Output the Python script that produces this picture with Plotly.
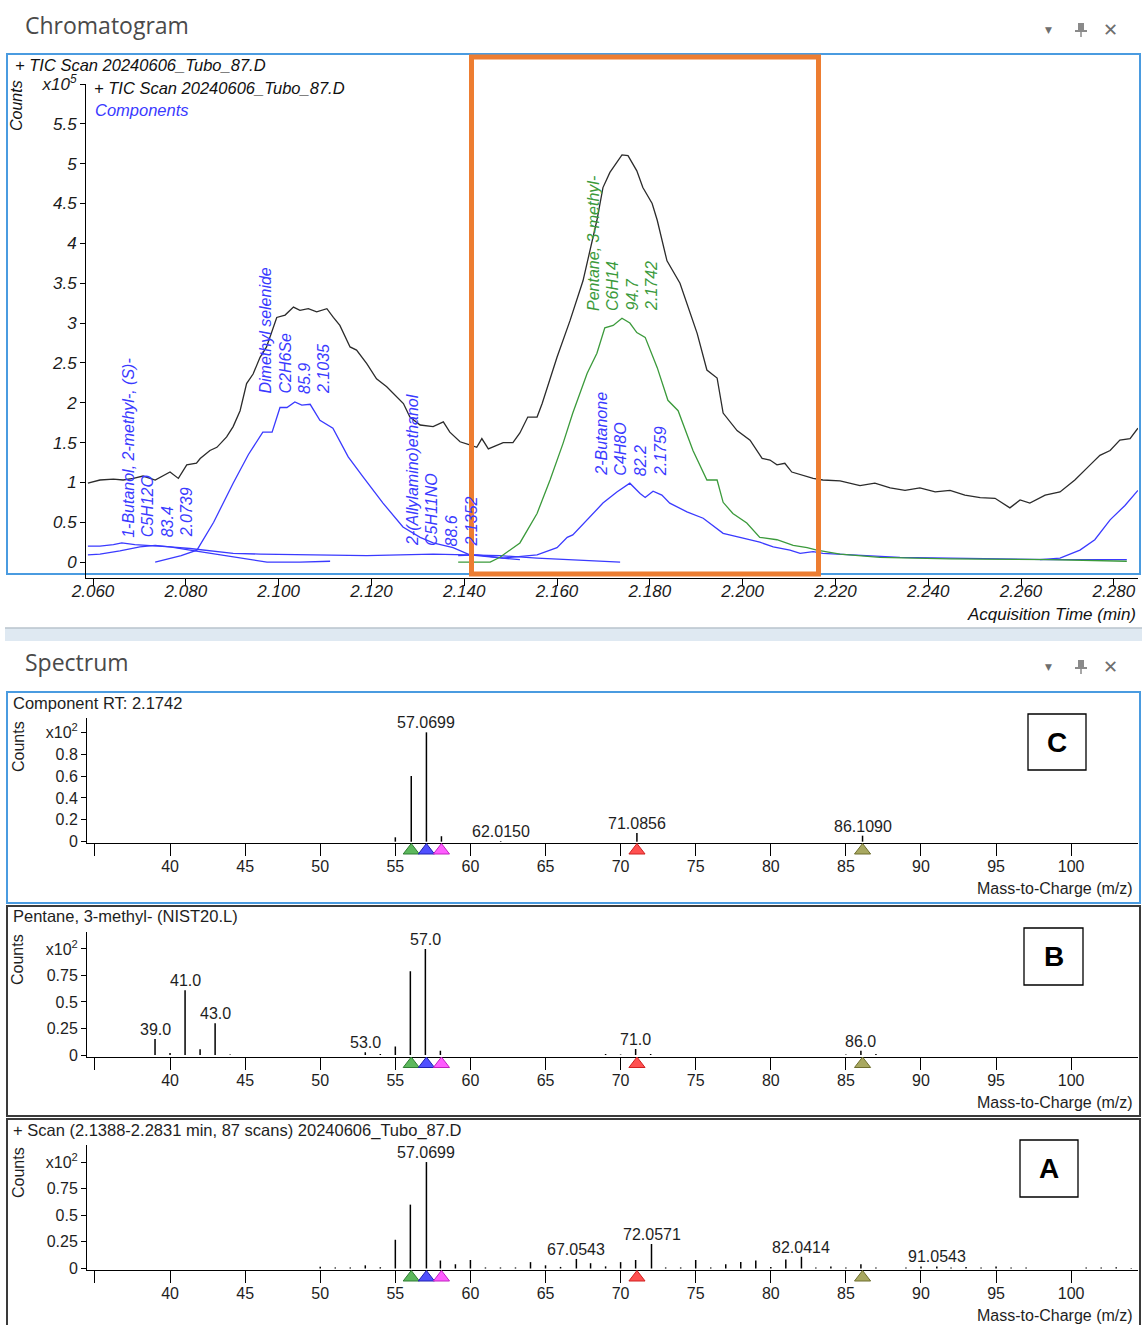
import numpy as np
import plotly.graph_objects as go

W, H = 1142, 1325
FONT = "Liberation Sans, Arial, sans-serif"
UI_FONT = "Open Sans, Noto Sans, sans-serif"

# ---------------- Chromatogram data: (acquisition time [min], counts x10^5) ----------------
tic_points = [
    (2.0589, 0.99), (2.0615, 1.03), (2.0644, 1.04), (2.0665, 1.03), (2.0687, 1.05), (2.0708, 1.08),
    (2.0734, 1.03), (2.0748, 1.07), (2.0766, 1.13), (2.0784, 1.05), (2.0802, 1.22), (2.0823, 1.24),
    (2.0831, 1.30), (2.0852, 1.40), (2.0867, 1.44), (2.0888, 1.57), (2.0902, 1.70), (2.0917, 1.90),
    (2.0931, 2.24), (2.0945, 2.36), (2.0960, 2.57), (2.0974, 2.70), (2.0996, 3.07), (2.1014, 3.10),
    (2.1032, 3.20), (2.1046, 3.16), (2.1064, 3.18), (2.1082, 3.14), (2.1104, 3.18), (2.1118, 3.07),
    (2.1132, 2.97), (2.1154, 2.70), (2.1168, 2.66), (2.1190, 2.49), (2.1211, 2.30), (2.1233, 2.20),
    (2.1254, 2.07), (2.1269, 1.99), (2.1283, 1.82), (2.1305, 1.72), (2.1333, 1.70), (2.1348, 1.74),
    (2.1355, 1.76), (2.1369, 1.63), (2.1391, 1.51), (2.1412, 1.47), (2.1427, 1.44), (2.1438, 1.55),
    (2.1452, 1.42), (2.1484, 1.50), (2.1505, 1.50), (2.1520, 1.62), (2.1537, 1.82), (2.1557, 1.82),
    (2.1568, 1.99), (2.1600, 2.57), (2.1628, 3.03), (2.1656, 3.53), (2.1686, 4.29), (2.1699, 4.70),
    (2.1714, 4.89), (2.1740, 5.11), (2.1753, 5.10), (2.1772, 4.91), (2.1785, 4.70), (2.1805, 4.50),
    (2.1816, 4.29), (2.1837, 3.78), (2.1865, 3.50), (2.1902, 2.87), (2.1923, 2.41), (2.1945, 2.31),
    (2.1958, 1.87), (2.1988, 1.65), (2.2016, 1.53), (2.2042, 1.30), (2.2059, 1.28), (2.2074, 1.22),
    (2.2091, 1.24), (2.2106, 1.13), (2.2130, 1.09), (2.2152, 1.05), (2.2173, 1.03), (2.2210, 1.02),
    (2.2253, 0.96), (2.2285, 0.99), (2.2318, 0.93), (2.2350, 0.90), (2.2382, 0.93), (2.2415, 0.88),
    (2.2447, 0.90), (2.2479, 0.84), (2.2512, 0.81), (2.2544, 0.80), (2.2576, 0.68), (2.2598, 0.78),
    (2.2619, 0.74), (2.2652, 0.84), (2.2684, 0.88), (2.2716, 1.03), (2.2749, 1.22), (2.2770, 1.34),
    (2.2792, 1.40), (2.2813, 1.53), (2.2835, 1.55), (2.2852, 1.68),
]

pentane_points = [
    (2.1387, 0.00), (2.1428, 0.00), (2.1456, 0.00), (2.1477, 0.06), (2.1520, 0.24), (2.1557, 0.61),
    (2.1585, 1.03), (2.1613, 1.49), (2.1634, 1.87), (2.1665, 2.37), (2.1686, 2.62), (2.1703, 2.94),
    (2.1721, 2.97), (2.1740, 3.06), (2.1757, 3.00), (2.1772, 2.88), (2.1790, 2.82), (2.1816, 2.44),
    (2.1839, 2.03), (2.1861, 1.90), (2.1893, 1.40), (2.1923, 1.03), (2.1945, 1.03), (2.1958, 0.75),
    (2.1979, 0.61), (2.2009, 0.49), (2.2037, 0.31), (2.2074, 0.28), (2.2109, 0.21), (2.2139, 0.18),
    (2.2160, 0.15), (2.2210, 0.10), (2.2296, 0.06), (2.2447, 0.04), (2.2662, 0.03), (2.2828, 0.01),
]

dimethylselenide_points = [
    (2.0734, 0.00), (2.0790, 0.08), (2.0824, 0.15), (2.0860, 0.50), (2.0902, 0.99), (2.0935, 1.35),
    (2.0966, 1.63), (2.0986, 1.63), (2.1003, 1.94), (2.1018, 1.94), (2.1035, 2.01), (2.1050, 1.97),
    (2.1068, 1.98), (2.1089, 1.78), (2.1117, 1.68), (2.1150, 1.32), (2.1182, 1.07), (2.1225, 0.74),
    (2.1268, 0.44), (2.1305, 0.31), (2.1333, 0.24), (2.1376, 0.18), (2.1412, 0.09), (2.1471, 0.06),
    (2.1520, 0.03),
]

butanol_points = [
    (2.0589, 0.09), (2.0615, 0.10), (2.0658, 0.14), (2.0701, 0.19), (2.0734, 0.21), (2.0766, 0.19),
    (2.0809, 0.15), (2.0852, 0.11), (2.0917, 0.05), (2.0975, 0.00), (2.1046, 0.00), (2.1111, 0.01),
]

allylaminoethanol_points = [
    (2.0589, 0.20), (2.0615, 0.20), (2.0644, 0.22), (2.0662, 0.24), (2.0690, 0.22), (2.0720, 0.21),
    (2.0766, 0.19), (2.0809, 0.17), (2.0852, 0.14), (2.0902, 0.11), (2.0960, 0.10), (2.1046, 0.09),
    (2.1111, 0.09), (2.1190, 0.08), (2.1262, 0.09), (2.1333, 0.10), (2.1406, 0.09), (2.1477, 0.08),
    (2.1557, 0.05), (2.1628, 0.03), (2.1700, 0.01), (2.1736, 0.00),
]

butanone_points = [
    (2.1387, 0.08), (2.1428, 0.09), (2.1484, 0.05), (2.1557, 0.09), (2.1600, 0.18), (2.1622, 0.31),
    (2.1634, 0.34), (2.1665, 0.53), (2.1699, 0.74), (2.1729, 0.88), (2.1757, 0.99), (2.1779, 0.86),
    (2.1790, 0.81), (2.1807, 0.89), (2.1826, 0.84), (2.1843, 0.74), (2.1880, 0.63), (2.1915, 0.55),
    (2.1958, 0.36), (2.2001, 0.30), (2.2037, 0.25), (2.2066, 0.19), (2.2102, 0.15), (2.2124, 0.11),
    (2.2152, 0.13), (2.2173, 0.11), (2.2231, 0.09), (2.2339, 0.06), (2.2447, 0.05), (2.2555, 0.04),
    (2.2662, 0.03), (2.2828, 0.03),
]

late_component_points = [
    (2.2641, 0.03), (2.2684, 0.05), (2.2727, 0.15), (2.2759, 0.28), (2.2792, 0.53), (2.2824, 0.71),
    (2.2852, 0.90),
]

# component labels: (name, formula, score, RT)
label_butanol = ("1-Butanol, 2-methyl-, (S)-", "C5H12O", "83.4", "2.0739")
label_dimethyl = ("Dimethyl selenide", "C2H6Se", "85.9", "2.1035")
label_allyl = ("2-(Allylamino)ethanol", "C5H11NO", "88.6", "2.1352")
label_pentane = ("Pentane, 3-methyl-", "C6H14", "94.7", "2.1742")
label_butanone = ("2-Butanone", "C4H8O", "82.2", "2.1759")

chrom_xticks = [2.06, 2.08, 2.10, 2.12, 2.14, 2.16, 2.18, 2.20, 2.22, 2.24, 2.26, 2.28]
chrom_xticktext = ["2.060", "2.080", "2.100", "2.120", "2.140", "2.160", "2.180", "2.200",
                   "2.220", "2.240", "2.260", "2.280"]
chrom_yticks = [0, 0.5, 1, 1.5, 2, 2.5, 3, 3.5, 4, 4.5, 5, 5.5, 6]
chrom_yticktext = ["0", "0.5", "1", "1.5", "2", "2.5", "3", "3.5", "4", "4.5", "5", "5.5", "x10<sup>5</sup>"]

# ---------------- Spectra data: (m/z, counts x10^2) ----------------
C_mz = [55.0, 56.06, 57.0699, 58.07, 62.0150, 71.0856, 86.1090]
C_int = [0.04, 0.60, 1.00, 0.05, 0.006, 0.08, 0.055]
C_lab = [None, None, "57.0699", None, "62.0150", "71.0856", "86.1090"]

B_mz = [39, 40, 41, 42, 43, 44, 53, 54, 55, 56, 57, 58, 69, 70, 71, 72, 85, 86, 87]
B_int = [0.15, 0.02, 0.61, 0.054, 0.30, 0.006, 0.025, 0.01, 0.08, 0.79, 1.00, 0.04,
         0.01, 0.005, 0.057, 0.01, 0.005, 0.04, 0.01]
B_lab = ["39.0", None, "41.0", None, "43.0", None, "53.0", None, None, None, "57.0", None,
         None, None, "71.0", None, None, "86.0", None]

A_mz = [50, 51, 52, 53, 54, 55, 56, 57.0699, 58, 59, 60, 61, 62, 63, 64, 65, 66, 67.0543, 68, 69,
        70, 71, 72.0571, 73, 74, 75, 76, 77, 78, 79, 80, 81, 82.0414, 83, 84, 85, 86, 87, 89, 90,
        91.0543, 92, 93, 94, 95, 96, 97, 101, 102, 103, 104]
A_int = [0.016, 0.01, 0.01, 0.03, 0.012, 0.27, 0.60, 1.00, 0.075, 0.04, 0.08, 0.01, 0.01, 0.01,
         0.06, 0.03, 0.015, 0.09, 0.05, 0.02, 0.06, 0.08, 0.23, 0.01, 0.01, 0.08, 0.01, 0.04, 0.06,
         0.075, 0.015, 0.085, 0.11, 0.01, 0.02, 0.01, 0.04, 0.01, 0.01, 0.02, 0.02, 0.01, 0.015,
         0.01, 0.02, 0.01, 0.01, 0.01, 0.01, 0.012, 0.005]
A_lab = {57.0699: "57.0699", 67.0543: "67.0543", 72.0571: "72.0571", 82.0414: "82.0414",
         91.0543: "91.0543"}

marker_mz = [56.06, 57.07, 58.07, 71.09, 86.11]
marker_fill = ["#5cb85c", "#5050ff", "#ff5cff", "#ff5050", "#a8a860"]
marker_edge = ["#2e7d32", "#2020b0", "#c020c0", "#d02020", "#6e6e2e"]

mz_ticks = list(range(35, 101, 5))
mz_ticktext = [""] + [str(v) for v in range(40, 101, 5)]

# ---------------- helpers ----------------
def px(x):
    return x / W


def py(y):
    return 1 - y / H


fig = go.Figure()
shapes = []
annotations = []


def add_curve(points, color, width=1.3):
    fig.add_trace(go.Scatter(
        x=[p[0] for p in points], y=[p[1] for p in points], mode="lines",
        line=dict(color=color, width=width), xaxis="x", yaxis="y",
        hoverinfo="skip", showlegend=False))


BLUE = "#3a3aff"
GREEN = "#3b9a3b"
add_curve(allylaminoethanol_points, BLUE)
add_curve(butanol_points, BLUE)
add_curve(dimethylselenide_points, BLUE)
add_curve(butanone_points, BLUE)
add_curve(late_component_points, BLUE)
add_curve(pentane_points, GREEN)
add_curve(tic_points, "#2b2b2b")

# component labels on chromatogram (rotated, one column per line)
LINE_GAP = 19.5
for lab, pts, col in [(label_butanol, butanol_points, BLUE),
                      (label_dimethyl, dimethylselenide_points, BLUE),
                      (label_allyl, allylaminoethanol_points, BLUE),
                      (label_pentane, pentane_points, GREEN),
                      (label_butanone, butanone_points, BLUE)]:
    rt = float(lab[3])
    ts = [p[0] for p in pts]
    vs = [p[1] for p in pts]
    yv = float(np.interp(rt, ts, vs))
    for i, line in enumerate(lab):
        annotations.append(dict(
            x=rt, y=yv, xref="x", yref="y", text=line, showarrow=False,
            textangle=-90, xanchor="center", yanchor="bottom", yshift=6,
            xshift=(i - 1.5) * LINE_GAP,
            font=dict(family=FONT, size=16, color=col, style="italic")))

CHROM_X = [2.05849, 2.28521]
CHROM_Y = [-0.2, 6.0]

layout_axes = dict(
    xaxis=dict(domain=[px(86), px(1138)], range=CHROM_X, anchor="y", showline=True,
               linecolor="black", linewidth=1, ticks="outside", ticklen=7, tickcolor="black",
               tickvals=chrom_xticks, ticktext=chrom_xticktext, showgrid=False, zeroline=False,
               automargin=False,
               tickfont=dict(family=FONT, size=17, color="#1a1a1a", style="italic")),
    yaxis=dict(domain=[py(578), py(84)], range=CHROM_Y, anchor="x", showline=True,
               linecolor="black", linewidth=1, ticks="outside", ticklen=5, tickcolor="black",
               tickvals=chrom_yticks, ticktext=chrom_yticktext, showgrid=False, zeroline=False,
               automargin=False,
               tickfont=dict(family=FONT, size=17, color="#1a1a1a", style="italic")),
)

panels = [
    dict(n=2, m=5, mz=C_mz, inten=C_int, labels=C_lab, bottom=843, top=718, yr=[-0.012, 1.131],
         yt=[0, 0.2, 0.4, 0.6, 0.8, 1.0], ytt=["0", "0.2", "0.4", "0.6", "0.8", "x10<sup>2</sup>"],
         title="Component RT: 2.1742", title_y=703, counts_y=747, mzt_y=888,
         box=(7, 692, 1140, 903), border="#4a9be0", letter="C", lbox=(1028, 714, 1086, 770)),
    dict(n=3, m=6, mz=B_mz, inten=B_int, labels=B_lab, bottom=1056.5, top=932, yr=[-0.014, 1.160],
         yt=[0, 0.25, 0.5, 0.75, 1.0], ytt=["0", "0.25", "0.5", "0.75", "x10<sup>2</sup>"],
         title="Pentane, 3-methyl- (NIST20.L)", title_y=916, counts_y=960, mzt_y=1102,
         box=(7, 906, 1140, 1116), border="#3a3a3a", letter="B", lbox=(1024, 928, 1083, 985)),
    dict(n=4, m=7, mz=A_mz, inten=A_int, labels=[A_lab.get(m) for m in A_mz], bottom=1270,
         top=1145, yr=[-0.014, 1.160],
         yt=[0, 0.25, 0.5, 0.75, 1.0], ytt=["0", "0.25", "0.5", "0.75", "x10<sup>2</sup>"],
         title="+ Scan (2.1388-2.2831 min, 87 scans) 20240606_Tubo_87.D", title_y=1130,
         counts_y=1173, mzt_y=1315,
         box=(7, 1119, 1140, 1335), border="#3a3a3a", letter="A", lbox=(1020, 1140, 1078, 1197)),
]

MZ_RANGE = [34.47, 104.45]
TXT = "#1e1e1e"

for p in panels:
    n, mk = p["n"], p["m"]
    xa, ya, yk = f"x{n}", f"y{n}", f"y{mk}"
    layout_axes[f"xaxis{n}"] = dict(
        domain=[px(87), px(1138)], range=MZ_RANGE, anchor=ya, showline=True, linecolor="black",
        linewidth=1, ticks="outside", ticklen=12, tickcolor="black", tickvals=mz_ticks,
        ticktext=mz_ticktext, showgrid=False, zeroline=False, automargin=False,
        tickfont=dict(family=FONT, size=16, color=TXT))
    layout_axes[f"yaxis{n}"] = dict(
        domain=[py(p["bottom"]), py(p["top"])], range=p["yr"], anchor=xa, showline=True,
        linecolor="black", linewidth=1, ticks="outside", ticklen=5, tickcolor="black",
        tickvals=p["yt"], ticktext=p["ytt"], showgrid=False, zeroline=False, automargin=False,
        tickfont=dict(family=FONT, size=16, color=TXT))
    # thin hidden axis strip just under the m/z axis line, holding the marker triangles
    layout_axes[f"yaxis{mk}"] = dict(
        domain=[py(p["bottom"] + 15), py(p["bottom"])], range=[-1, 1], anchor="free",
        position=0, visible=False, showgrid=False, zeroline=False, automargin=False)

    xs, ys = [], []
    for m, v in zip(p["mz"], p["inten"]):
        xs += [m, m, None]
        ys += [0, v, None]
    fig.add_trace(go.Scatter(x=xs, y=ys, mode="lines", line=dict(color="black", width=1.5),
                             xaxis=xa, yaxis=ya, hoverinfo="skip", showlegend=False))

    fig.add_trace(go.Scatter(
        x=marker_mz, y=[0] * len(marker_mz), mode="markers", cliponaxis=False,
        marker=dict(symbol="triangle-up", size=14, color=marker_fill,
                    line=dict(color=marker_edge, width=1)),
        xaxis=xa, yaxis=yk, hoverinfo="skip", showlegend=False))

    for m, v, lab in zip(p["mz"], p["inten"], p["labels"]):
        if lab:
            annotations.append(dict(x=m, y=v, xref=xa, yref=ya, text=lab, showarrow=False,
                                    xanchor="center", yanchor="bottom", yshift=-1,
                                    font=dict(family=FONT, size=16, color=TXT)))

    x0, y0, x1, y1 = p["box"]
    shapes.append(dict(type="rect", xref="paper", yref="paper", x0=px(x0), x1=px(x1),
                       y0=py(y1), y1=py(y0), line=dict(color=p["border"], width=2),
                       fillcolor="rgba(0,0,0,0)", layer="below"))
    lx0, ly0, lx1, ly1 = p["lbox"]
    shapes.append(dict(type="rect", xref="paper", yref="paper", x0=px(lx0), x1=px(lx1),
                       y0=py(ly1), y1=py(ly0), line=dict(color="black", width=1.3),
                       fillcolor="white"))
    annotations.append(dict(x=px((lx0 + lx1) / 2), y=py((ly0 + ly1) / 2), xref="paper",
                            yref="paper", text=f"<b>{p['letter']}</b>", showarrow=False,
                            xanchor="center", yanchor="middle",
                            font=dict(family=FONT, size=28, color="black")))
    annotations.append(dict(x=px(11), y=py(p["title_y"]), xref="paper", yref="paper",
                            text=p["title"], showarrow=False, xanchor="left", yanchor="middle",
                            font=dict(family=FONT, size=16.5, color=TXT)))
    annotations.append(dict(x=px(18), y=py(p["counts_y"]), xref="paper", yref="paper",
                            text="Counts", showarrow=False, textangle=-90, xanchor="center",
                            yanchor="middle", font=dict(family=FONT, size=16, color=TXT)))
    annotations.append(dict(x=px(1135), y=py(p["mzt_y"]), xref="paper", yref="paper",
                            text="Mass-to-Charge (m/z)", showarrow=False, xanchor="right",
                            yanchor="middle", font=dict(family=FONT, size=16, color=TXT)))

# ---------------- chromatogram decorations ----------------
shapes.append(dict(type="rect", xref="paper", yref="paper", x0=px(7), x1=px(1140),
                   y0=py(574), y1=py(54), line=dict(color="#4a9be0", width=2),
                   fillcolor="rgba(0,0,0,0)", layer="below"))
shapes.append(dict(type="rect", xref="paper", yref="paper", x0=px(471.5), x1=px(818.5),
                   y0=py(574), y1=py(57), line=dict(color="#ED7D31", width=5),
                   fillcolor="rgba(0,0,0,0)", layer="above"))
# separator band between windows
shapes.append(dict(type="rect", xref="paper", yref="paper", x0=px(5), x1=px(1142),
                   y0=py(641), y1=py(628), line=dict(width=0), fillcolor="#dfe9f2"))
shapes.append(dict(type="line", xref="paper", yref="paper", x0=px(5), x1=px(1142),
                   y0=py(628), y1=py(628), line=dict(color="#b9c3cc", width=1.5)))

for txt, x, y, col in [("+ TIC Scan 20240606_Tubo_87.D", 13, 65, "#111111"),
                       ("+ TIC Scan 20240606_Tubo_87.D", 92, 88, "#111111"),
                       ("Components", 93, 110, "#3a3aff")]:
    annotations.append(dict(x=px(x), y=py(y), xref="paper", yref="paper", text=txt,
                            showarrow=False, xanchor="left", yanchor="middle",
                            font=dict(family=FONT, size=16.5, color=col, style="italic")))
annotations.append(dict(x=px(17), y=py(106), xref="paper", yref="paper", text="Counts",
                        showarrow=False, textangle=-90, xanchor="center", yanchor="middle",
                        font=dict(family=FONT, size=16, color="#111111", style="italic")))
annotations.append(dict(x=px(1138), y=py(614), xref="paper", yref="paper",
                        text="Acquisition Time (min)", showarrow=False, xanchor="right",
                        yanchor="middle",
                        font=dict(family=FONT, size=17, color="#111111", style="italic")))

# window headers and icons
for title, ty in [("Chromatogram", 25), ("Spectrum", 662)]:
    annotations.append(dict(x=px(23), y=py(ty), xref="paper", yref="paper", text=title,
                            showarrow=False, xanchor="left", yanchor="middle",
                            font=dict(family=UI_FONT, size=23, color="#4a4a4a")))
    annotations.append(dict(x=px(1048), y=py(ty + 5), xref="paper", yref="paper", text="▼",
                            showarrow=False, xanchor="center", yanchor="middle",
                            font=dict(family="DejaVu Sans", size=9, color="#6e6e6e")))
    annotations.append(dict(x=px(1110), y=py(ty + 5), xref="paper", yref="paper", text="✕",
                            showarrow=False, xanchor="center", yanchor="middle",
                            font=dict(family="DejaVu Sans", size=18, color="#6e6e6e")))
    cx, cy = 1081, ty + 5
    shapes.append(dict(type="rect", xref="paper", yref="paper", x0=px(cx - 3), x1=px(cx + 3),
                       y0=py(cy + 1), y1=py(cy - 7), line=dict(width=0), fillcolor="#8a8a8a"))
    shapes.append(dict(type="line", xref="paper", yref="paper", x0=px(cx - 6), x1=px(cx + 6),
                       y0=py(cy + 1), y1=py(cy + 1), line=dict(color="#8a8a8a", width=2)))
    shapes.append(dict(type="line", xref="paper", yref="paper", x0=px(cx), x1=px(cx),
                       y0=py(cy + 1), y1=py(cy + 7), line=dict(color="#8a8a8a", width=1.5)))

fig.update_layout(
    width=W, height=H, margin=dict(l=0, r=0, t=0, b=0, pad=0, autoexpand=False),
    paper_bgcolor="white", plot_bgcolor="rgba(0,0,0,0)", showlegend=False,
    shapes=shapes, annotations=annotations, font=dict(family=FONT), **layout_axes)

# pull tick labels closer to their axis lines, as in the reference
try:
    fig.layout.xaxis.ticklabelstandoff = -9
    for name in ("xaxis2", "xaxis3", "xaxis4"):
        fig.layout[name].ticklabelstandoff = -3
except Exception:
    pass

fig.write_html(
    "out.html",
    config={"displayModeBar": False, "staticPlot": True},
    post_script="document.body.style.margin='0px';document.body.style.padding='0px';"
                "document.documentElement.style.overflow='hidden';")
